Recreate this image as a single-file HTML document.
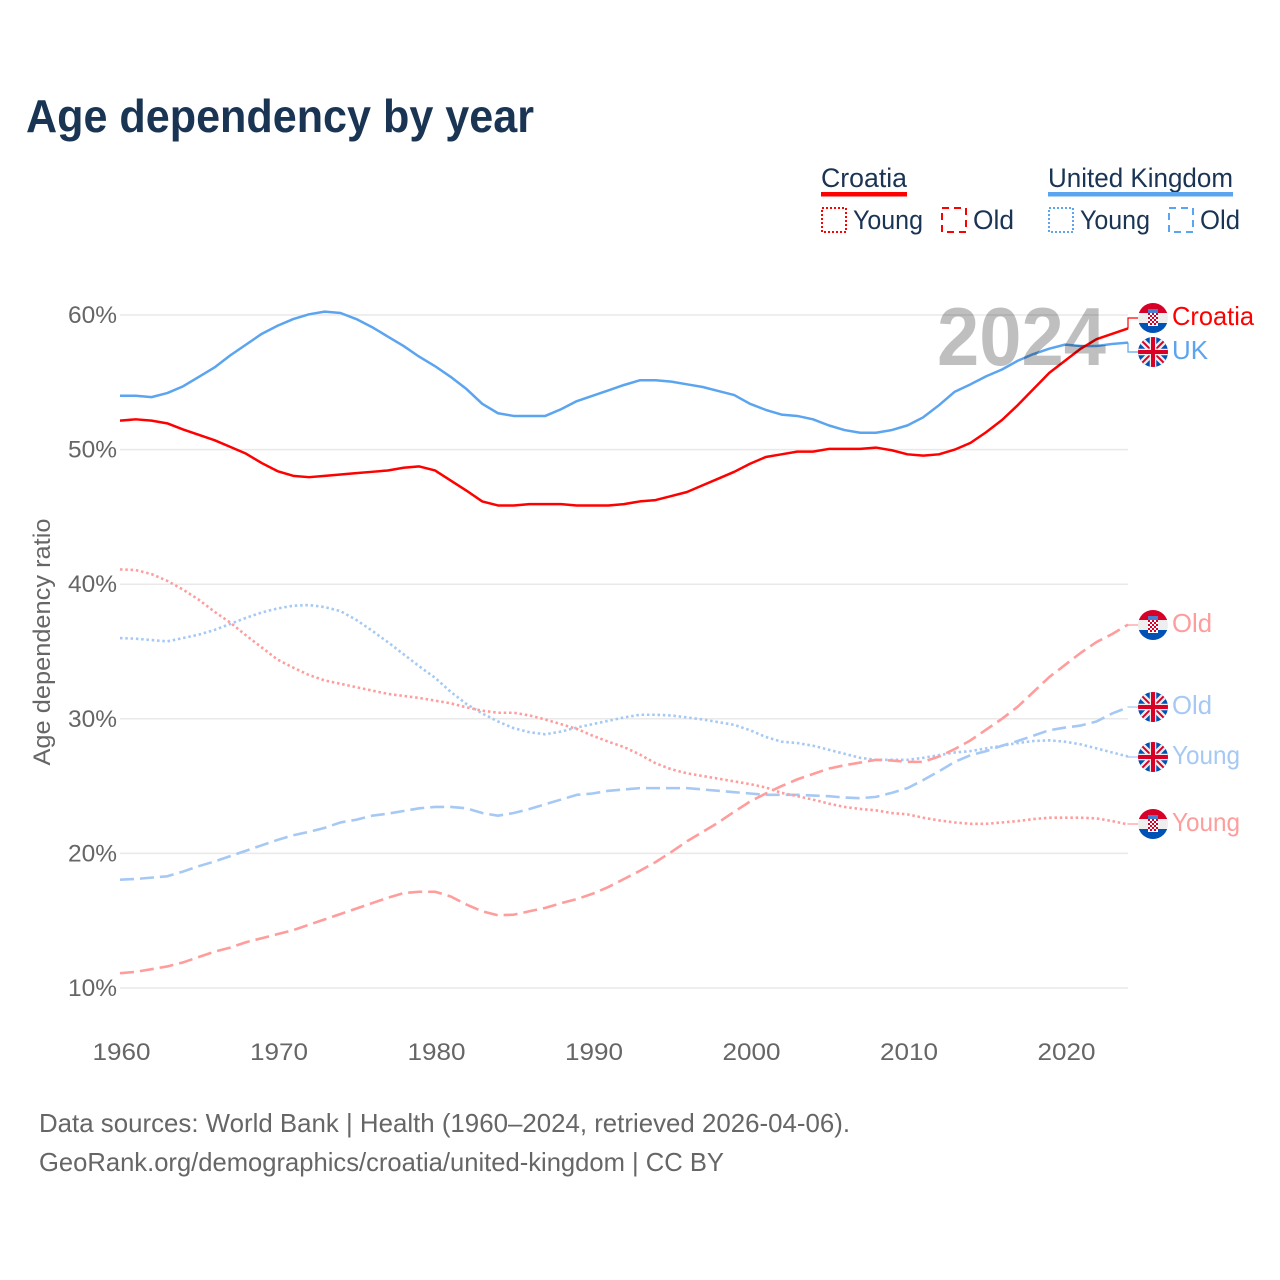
<!DOCTYPE html>
<html lang="en">
<head>
<meta charset="utf-8">
<title>Age dependency by year</title>
<style>
html,body{margin:0;padding:0;background:#fff;width:1280px;height:1280px;overflow:hidden}
svg{display:block}
text{font-family:"Liberation Sans",sans-serif}
</style>
</head>
<body>
<svg id="chart" width="1280" height="1280" viewBox="0 0 1280 1280" xmlns="http://www.w3.org/2000/svg">
<defs>
  <clipPath id="flag-clip"><circle cx="0" cy="0" r="15"/></clipPath>
  <g id="flag-hr" clip-path="url(#flag-clip)">
    <rect x="-15" y="-15" width="30" height="30" fill="#eeeeee"/>
    <rect x="-15" y="-15" width="30" height="10" fill="#d80027"/>
    <rect x="-15" y="5" width="30" height="10" fill="#0052b4"/>
    <rect x="-5" y="-9" width="10" height="4" fill="#4a7fd0"/>
    <rect x="-5" y="-5" width="10" height="13" fill="#ffffff"/>
    <path d="M-5-5h2v2h-2zM-1-5h2v2h-2zM3-5h2v2h-2zM-3-3h2v2h-2zM1-3h2v2h-2zM-5-1h2v2h-2zM-1-1h2v2h-2zM3-1h2v2h-2zM-3 1h2v2h-2zM1 1h2v2h-2zM-5 3h2v2h-2zM-1 3h2v2h-2zM3 3h2v2h-2zM-3 5h2v2h-2zM1 5h2v2h-2z" fill="#d80027"/>
  </g>
  <g id="flag-uk" clip-path="url(#flag-clip)">
    <rect x="-15" y="-15" width="30" height="30" fill="#0052b4"/>
    <path d="M-15-15L15 15M15-15L-15 15" stroke="#eeeeee" stroke-width="6.500"/>
    <path d="M-15-15L15 15M15-15L-15 15" stroke="#d80027" stroke-width="2"/>
    <path d="M0-15V15M-15 0H15" stroke="#eeeeee" stroke-width="6.500"/>
    <path d="M0-15V15M-15 0H15" stroke="#d80027" stroke-width="4"/>
  </g>
</defs>

<text x="26" y="132" font-size="46" font-weight="700" fill="#1a3454" textLength="508" lengthAdjust="spacingAndGlyphs">Age dependency by year</text>

<g fill="#1a3454" font-size="27">
  <text x="821" y="187" textLength="86" lengthAdjust="spacingAndGlyphs">Croatia</text>
  <rect x="821" y="192" width="86" height="4.500" fill="#ff0000"/>
  <rect x="822" y="208" width="24" height="24" fill="none" stroke="#ff0000" stroke-width="2" stroke-dasharray="2 2"/>
  <text x="853" y="229" textLength="70" lengthAdjust="spacingAndGlyphs">Young</text>
  <rect x="942" y="208" width="24" height="24" fill="none" stroke="#ff0000" stroke-width="2" stroke-dasharray="7 5"/>
  <text x="973" y="229" textLength="41" lengthAdjust="spacingAndGlyphs">Old</text>

  <text x="1048" y="187" textLength="185" lengthAdjust="spacingAndGlyphs">United Kingdom</text>
  <rect x="1048" y="192" width="185" height="4.500" fill="#5ba4ef"/>
  <rect x="1049" y="208" width="24" height="24" fill="none" stroke="#5ba4ef" stroke-width="2" stroke-dasharray="2 2"/>
  <text x="1080" y="229" textLength="70" lengthAdjust="spacingAndGlyphs">Young</text>
  <rect x="1169" y="208" width="24" height="24" fill="none" stroke="#5ba4ef" stroke-width="2" stroke-dasharray="7 5"/>
  <text x="1200" y="229" textLength="40" lengthAdjust="spacingAndGlyphs">Old</text>
</g>

<g id="grid"></g>
<g id="yticks"></g>
<g id="xticks"></g>
<text transform="translate(50,642) rotate(-90)" text-anchor="middle" font-size="24" fill="#666666" textLength="247" lengthAdjust="spacingAndGlyphs">Age dependency ratio</text>

<g id="series"></g>

<text x="937" y="365" font-size="83" font-weight="700" fill="#000000" fill-opacity="0.25" textLength="169" lengthAdjust="spacingAndGlyphs">2024</text>

<g font-size="26">
  <use href="#flag-hr" x="1153" y="318"/>
  <text x="1172" y="325" fill="#ff0000" textLength="82" lengthAdjust="spacingAndGlyphs">Croatia</text>
  <use href="#flag-uk" x="1153" y="352"/>
  <text x="1172" y="359" fill="#5ba4ef" textLength="36" lengthAdjust="spacingAndGlyphs">UK</text>
  <use href="#flag-hr" x="1153" y="625"/>
  <text x="1172" y="632" fill="#ff9d9d" textLength="40" lengthAdjust="spacingAndGlyphs">Old</text>
  <use href="#flag-uk" x="1153" y="707"/>
  <text x="1172" y="714" fill="#a5c9f4" textLength="40" lengthAdjust="spacingAndGlyphs">Old</text>
  <use href="#flag-uk" x="1153" y="757"/>
  <text x="1172" y="764" fill="#a5c9f4" textLength="68" lengthAdjust="spacingAndGlyphs">Young</text>
  <use href="#flag-hr" x="1153" y="824"/>
  <text x="1172" y="831" fill="#ff9d9d" textLength="68" lengthAdjust="spacingAndGlyphs">Young</text>
</g>

<g font-size="26" fill="#666666">
  <text x="39" y="1132" textLength="811" lengthAdjust="spacingAndGlyphs">Data sources: World Bank | Health (1960–2024, retrieved 2026-04-06).</text>
  <text x="39" y="1171" textLength="685" lengthAdjust="spacingAndGlyphs">GeoRank.org/demographics/croatia/united-kingdom | CC BY</text>
</g>
</svg>

<script>
const startYear = 1960;
const yTickValues = [10, 20, 30, 40, 50, 60];
const xTickYears = [1960, 1970, 1980, 1990, 2000, 2010, 2020];

const ukTotal = [54.0,54.0,53.9,54.2,54.7,55.4,56.1,57.0,57.8,58.6,59.2,59.7,60.05,60.25,60.15,59.7,59.1,58.4,57.7,56.9,56.2,55.4,54.5,53.4,52.7,52.5,52.5,52.5,53.0,53.6,54.0,54.4,54.8,55.15,55.15,55.05,54.85,54.65,54.35,54.05,53.4,52.95,52.6,52.5,52.25,51.8,51.45,51.25,51.25,51.45,51.8,52.4,53.3,54.3,54.85,55.45,55.95,56.6,57.1,57.5,57.8,57.7,57.7,57.85,57.95];
const croatiaTotal = [52.15,52.25,52.15,51.95,51.5,51.1,50.7,50.2,49.7,49.0,48.4,48.05,47.95,48.05,48.15,48.25,48.35,48.45,48.65,48.75,48.45,47.7,46.95,46.15,45.85,45.85,45.95,45.95,45.95,45.85,45.85,45.85,45.95,46.15,46.25,46.55,46.85,47.35,47.85,48.35,48.95,49.45,49.65,49.85,49.85,50.05,50.05,50.05,50.15,49.95,49.65,49.55,49.65,50.0,50.5,51.3,52.2,53.3,54.5,55.7,56.6,57.5,58.2,58.6,59.0];
const croatiaYoung = [41.1,41.05,40.75,40.25,39.6,38.85,37.95,37.15,36.2,35.3,34.4,33.8,33.25,32.85,32.6,32.35,32.1,31.85,31.7,31.55,31.35,31.15,30.85,30.6,30.45,30.45,30.25,29.95,29.6,29.25,28.75,28.3,27.9,27.35,26.7,26.25,25.95,25.75,25.55,25.35,25.15,24.9,24.5,24.25,24.0,23.7,23.45,23.3,23.2,23.0,22.9,22.65,22.45,22.3,22.2,22.2,22.3,22.4,22.55,22.65,22.65,22.65,22.6,22.4,22.15];
const croatiaOld = [11.1,11.2,11.4,11.6,11.9,12.3,12.7,13.0,13.4,13.7,14.0,14.3,14.7,15.1,15.5,15.9,16.3,16.7,17.05,17.15,17.15,16.8,16.2,15.7,15.4,15.45,15.7,15.95,16.3,16.6,17.0,17.5,18.1,18.7,19.35,20.1,20.9,21.6,22.3,23.1,23.85,24.45,25.0,25.5,25.9,26.3,26.55,26.75,26.95,26.9,26.8,26.8,27.2,27.75,28.4,29.2,30.0,30.9,32.0,33.1,34.0,34.9,35.7,36.3,37.0];
const ukYoung = [36.0,35.95,35.85,35.75,36.0,36.25,36.6,37.05,37.5,37.9,38.2,38.4,38.45,38.3,38.0,37.35,36.55,35.7,34.8,33.9,33.05,32.0,31.1,30.4,29.8,29.3,29.0,28.85,29.05,29.35,29.6,29.85,30.1,30.3,30.3,30.25,30.1,29.95,29.75,29.55,29.15,28.65,28.3,28.2,28.0,27.7,27.4,27.1,26.95,26.95,26.95,27.1,27.3,27.5,27.6,27.8,28.0,28.2,28.35,28.4,28.3,28.1,27.8,27.5,27.2];
const ukOld = [18.05,18.1,18.2,18.3,18.65,19.05,19.4,19.8,20.2,20.6,21.0,21.35,21.6,21.9,22.3,22.5,22.8,22.95,23.15,23.35,23.45,23.45,23.35,23.0,22.8,23.0,23.3,23.65,24.0,24.35,24.45,24.65,24.75,24.85,24.85,24.85,24.85,24.75,24.65,24.55,24.45,24.35,24.35,24.35,24.3,24.25,24.15,24.1,24.2,24.5,24.85,25.45,26.1,26.8,27.3,27.6,28.0,28.35,28.75,29.15,29.35,29.5,29.8,30.4,30.85];

const SVG_NS = 'http://www.w3.org/2000/svg';
function xScale(year) { return 120 + (year - 1960) * 15.75; }
function yScale(v) { return 988 - (v - 10) * 13.46; }

const gridGroup = document.getElementById('grid');
const yTickGroup = document.getElementById('yticks');
const xTickGroup = document.getElementById('xticks');
const seriesGroup = document.getElementById('series');

yTickValues.forEach(function (v) {
  const line = document.createElementNS(SVG_NS, 'line');
  
  
  line.setAttribute('x1', 120);
  line.setAttribute('x2', 1128);
  line.setAttribute('y1', yScale(v));
  line.setAttribute('y2', yScale(v));
  line.setAttribute('stroke', '#e9e9e9');
  line.setAttribute('stroke-width', 1.5);
  gridGroup.appendChild(line);

  const label = document.createElementNS(SVG_NS, 'text');
  
  
  label.setAttribute('x', 117);
  label.setAttribute('y', yScale(v) + 8);
  label.setAttribute('text-anchor', 'end');
  label.setAttribute('font-size', 24);
  label.setAttribute('fill', '#666666');
  label.setAttribute('textLength', 49);
  label.setAttribute('lengthAdjust', 'spacingAndGlyphs');
  label.textContent = v + '%';
  yTickGroup.appendChild(label);
});

xTickYears.forEach(function (yr) {
  const label = document.createElementNS(SVG_NS, 'text');
  
  
  label.setAttribute('x', xScale(yr) + 1.5);
  label.setAttribute('y', 1060);
  label.setAttribute('text-anchor', 'middle');
  label.setAttribute('font-size', 24);
  label.setAttribute('fill', '#666666');
  label.setAttribute('textLength', 58);
  label.setAttribute('lengthAdjust', 'spacingAndGlyphs');
  label.textContent = yr;
  xTickGroup.appendChild(label);
});

function drawSeries(values, name, color, width, dash, labelY) {
  const points = values.map(function (v, i) {
    return xScale(startYear + i).toFixed(2) + ',' + yScale(v).toFixed(2);
  });
  const endX = xScale(startYear + values.length - 1);
  const endY = yScale(values[values.length - 1]);

  const path = document.createElementNS(SVG_NS, 'polyline');
  
  
  path.setAttribute('points', points.join(' '));
  path.setAttribute('fill', 'none');
  path.setAttribute('stroke', color);
  path.setAttribute('stroke-width', width);
  path.setAttribute('stroke-linejoin', 'round');
  if (dash) path.setAttribute('stroke-dasharray', dash);
  seriesGroup.appendChild(path);

  const leader = document.createElementNS(SVG_NS, 'polyline');
  
  
  leader.setAttribute('points', endX + ',' + endY + ' ' + endX + ',' + labelY + ' 1140,' + labelY);
  leader.setAttribute('fill', 'none');
  leader.setAttribute('stroke', color);
  leader.setAttribute('stroke-width', 1.2);
  seriesGroup.appendChild(leader);
}

drawSeries(ukOld, 'uk-old-line', '#a5c9f4', 2.6, '14 6', 707);
drawSeries(ukYoung, 'uk-young-line', '#a5c9f4', 2.6, '2.5 2.8', 757);
drawSeries(croatiaOld, 'croatia-old-line', '#ff9d9d', 2.6, '14 6', 625);
drawSeries(croatiaYoung, 'croatia-young-line', '#ff9d9d', 2.6, '2.5 2.8', 824);
drawSeries(ukTotal, 'uk-total-line', '#5ba4ef', 2.5, '', 352);
drawSeries(croatiaTotal, 'croatia-total-line', '#ff0000', 2.5, '', 318);
</script>
</body>
</html>
